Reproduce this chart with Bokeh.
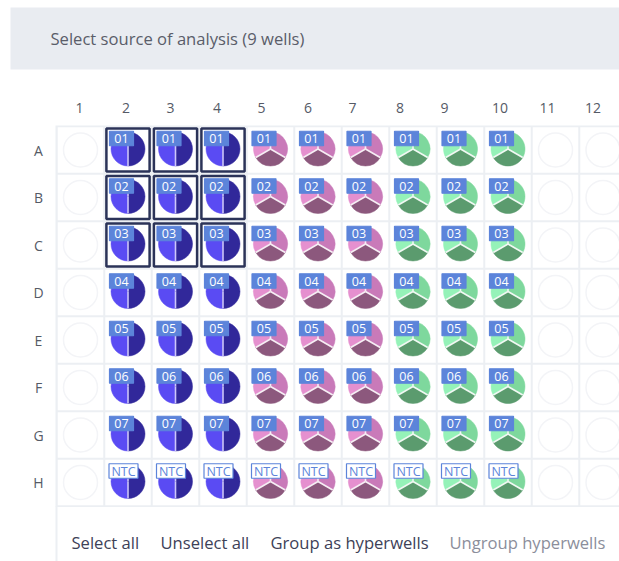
import math
from bokeh.plotting import figure
from bokeh.models import Range1d, ColumnDataSource
from bokeh.embed import file_html
from bokeh.resources import INLINE
from bokeh.core.properties import value

# ---------------- data ----------------
title_text = "Select source of analysis (9 wells)"
rows = ["A", "B", "C", "D", "E", "F", "G", "H"]
cols = ["1", "2", "3", "4", "5", "6", "7", "8", "9", "10", "11", "12"]
sample_labels = ["01", "02", "03", "04", "05", "06", "07", "NTC"]
blue_cols = ["2", "3", "4"]
pink_cols = ["5", "6", "7"]
green_cols = ["8", "9", "10"]
selected_cols = ["2", "3", "4"]
selected_rows = ["A", "B", "C"]
actions = ["Select all", "Unselect all", "Group as hyperwells", "Ungroup hyperwells"]
actions_enabled = [True, True, True, False]

# slice shares per dye group (equal channels)
blue_shares = [1, 1]
pink_shares = [1, 1, 1]
green_shares = [1, 1, 1]
blue_colors = ["#5a4bf3", "#31289a"]
pink_colors = ["#e590cf", "#8c587d", "#c97ab9"]
green_colors = ["#95f2b8", "#5b9b6e", "#7ed89d"]

# ---------------- layout helpers (pixels -> data units) ----------------
PITCH = 47.5
X0, Y0 = 80.0, 149.5
W, H = 619, 561


def ux(px):
    return 1 + (px - X0) / PITCH


def uy(py):
    return -(1 + (py - Y0) / PITCH)


def ul(px):
    return px / PITCH


def cx(c):
    return float(cols.index(c) + 1)


def ry(r):
    return -float(rows.index(r) + 1)


FONT = value("Open Sans")

p = figure(width=W, height=H, output_backend="svg", toolbar_location=None,
           x_range=Range1d(ux(0), ux(W)), y_range=Range1d(uy(H), uy(0)),
           min_border=0)
p.axis.visible = False
p.grid.visible = False
p.outline_line_color = None
p.background_fill_color = "white"
p.border_fill_color = "white"

# header bar
p.quad(left=[ux(10)], right=[ux(630)], top=[uy(7)], bottom=[uy(69)],
       fill_color="#e9ecf1", line_color=None)
p.text(x=[ux(50)], y=[uy(38)], text=[title_text], text_font=FONT,
       text_font_size="16.6px", text_color="#5a5d69", text_baseline="middle",
       text_align="left")

# column / row headers
col_nudge_px = [-1, -2, -5, -6, -9, -10, -13, -13, -16, -8, -8, -10]
p.text(x=[cx(c) + ul(n) for c, n in zip(cols, col_nudge_px)], y=[uy(107)] * len(cols),
       text=cols, text_font=FONT, text_font_size="14px", text_color="#555a66",
       text_align="center", text_baseline="middle")
p.text(x=[ux(38)] * len(rows), y=[ry(r) for r in rows], text=rows, text_font=FONT,
       text_font_size="14px", text_color="#555a66", text_align="center",
       text_baseline="middle")

# plate grid background
GRID = "#eceff3"
p.quad(left=[ux(55)], right=[ux(630)], top=[uy(125)], bottom=[uy(506.5)],
       fill_color=GRID, line_color=None)
p.quad(left=[ux(55)], right=[ux(57)], top=[uy(506)], bottom=[uy(570)],
       fill_color=GRID, line_color=None)

cell_x, cell_y = [], []
for r in rows:
    for c in cols:
        cell_x.append(cx(c))
        cell_y.append(ry(r))
p.rect(x=cell_x, y=cell_y, width=ul(45.5), height=ul(45.5), fill_color="white",
       line_color=None)

# selected wells
sx, sy = [], []
for r in selected_rows:
    for c in selected_cols:
        sx.append(cx(c))
        sy.append(ry(r))
p.rect(x=sx, y=sy, width=ul(43.2), height=ul(43.2), fill_color=None,
       line_color="#2b3358", line_width=2.5)

R = ul(17)
DY = ul(1)  # pie sits a hair above cell centre

# empty wells
empty_cols = [c for c in cols if c not in blue_cols + pink_cols + green_cols]
ex, ey = [], []
for r in rows:
    for c in empty_cols:
        ex.append(cx(c))
        ey.append(ry(r))
p.circle(x=ex, y=ey, radius=R, fill_color="white", line_color="#f3f4f7", line_width=1.5)

# pies
groups = [(blue_cols, blue_shares, blue_colors, "#cdc6fa"),
          (pink_cols, pink_shares, pink_colors, "#f6eef4"),
          (green_cols, green_shares, green_colors, "#f1f8f3")]
for gcols, shares, colors, sep in groups:
    tot = float(sum(shares))
    wx, wy, ws, we, wc = [], [], [], [], []
    x0s, y0s, x1s, y1s = [], [], [], []
    for r in rows:
        for c in gcols:
            a = math.pi / 2
            for s, col in zip(shares, colors):
                b = a + 2 * math.pi * s / tot
                wx.append(cx(c)); wy.append(ry(r) + DY)
                ws.append(a); we.append(b); wc.append(col)
                x0s.append(cx(c)); y0s.append(ry(r) + DY)
                x1s.append(cx(c) + R * math.cos(a)); y1s.append(ry(r) + DY + R * math.sin(a))
                a = b
    src = ColumnDataSource(dict(x=wx, y=wy, s=ws, e=we, c=wc))
    p.wedge(x="x", y="y", radius=R, start_angle="s", end_angle="e", fill_color="c",
            line_color="c", line_width=0.5, source=src)
    p.segment(x0=x0s, y0=y0s, x1=x1s, y1=y1s, line_color=sep, line_width=1.6)

# sample labels on filled wells
filled_cols = blue_cols + pink_cols + green_cols
lx, ly, lt, lw = [], [], [], []
for r, lab in zip(rows, sample_labels):
    for c in filled_cols:
        lx.append(cx(c) - ul(6.5) + (ul(2) if lab == "NTC" else 0))
        ly.append(ry(r) + ul(11.5))
        lt.append(lab)
        lw.append(ul(29) if lab == "NTC" else ul(24))
lsrc = ColumnDataSource(dict(x=lx, y=ly, t=lt, w=lw,
                             f=["white" if t == "NTC" else "#5c84da" for t in lt],
                             tc=["#5c84da" if t == "NTC" else "white" for t in lt]))
p.rect(x="x", y="y", width="w", height=ul(14.5), fill_color="f", line_color="#5c84da",
       line_width=1.2, source=lsrc)
p.text(x="x", y="y", text="t", text_color="tc", text_font=FONT, text_font_size="12.5px",
       text_align="center", text_baseline="middle", source=lsrc)

# action links
action_px = [71, 160, 270, 449]
p.text(x=[ux(v) for v in action_px], y=[uy(542)] * len(actions), text=actions,
       text_font=FONT, text_font_size="16.6px",
       text_color=["#3d4157" if e else "#8b8e9b" for e in actions_enabled],
       text_align="left", text_baseline="middle")

open("out.html", "w").write(file_html(p, INLINE))
